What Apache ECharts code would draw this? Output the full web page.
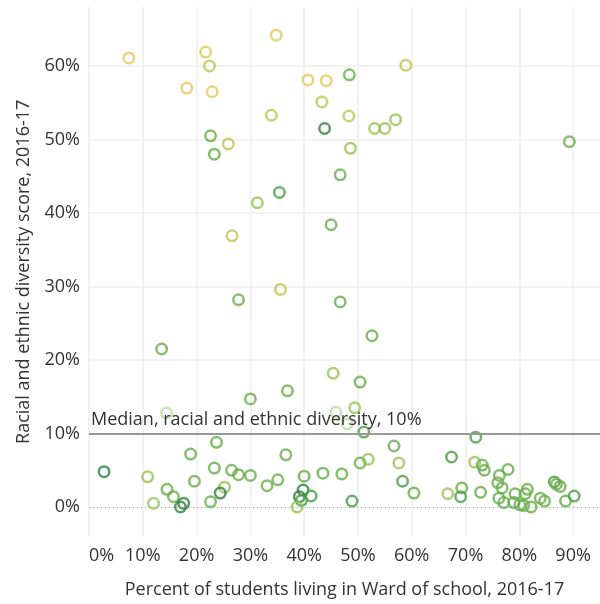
<!DOCTYPE html>
<html>
<head>
<meta charset="utf-8">
<script src="https://cdn.jsdelivr.net/npm/echarts@6/dist/echarts.min.js"></script>
<style>
  html, body { margin: 0; padding: 0; background: #fff; }
  #main { width: 600px; height: 604px; }
</style>
</head>
<body>
<div id="main"></div>
<script>
// share of students living in the school's Ward (x) and diversity score (y)
var wardShare = [
  0.074, 0.217, 0.224, 0.182, 0.229, 0.348, 0.339, 0.226, 0.259, 0.233,
  0.354, 0.313, 0.266, 0.356, 0.278, 0.467, 0.135, 0.454, 0.407, 0.441,
  0.484, 0.589, 0.433, 0.483, 0.438, 0.531, 0.550, 0.570, 0.486, 0.467,
  0.450, 0.893, 0.526, 0.504, 0.144, 0.300, 0.369, 0.459, 0.494, 0.480,
  0.511, 0.028, 0.109, 0.189, 0.237, 0.145, 0.120, 0.157, 0.176, 0.170,
  0.196, 0.233, 0.226, 0.252, 0.244, 0.265, 0.278, 0.300, 0.331, 0.351,
  0.366, 0.400, 0.435, 0.470, 0.398, 0.413, 0.391, 0.395, 0.387, 0.489,
  0.504, 0.519, 0.567, 0.576, 0.583, 0.604, 0.667, 0.674, 0.719, 0.717,
  0.731, 0.735, 0.779, 0.763, 0.760, 0.768, 0.693, 0.691, 0.728, 0.762,
  0.771, 0.792, 0.790, 0.801, 0.815, 0.811, 0.822, 0.808, 0.839, 0.847,
  0.865, 0.869, 0.876, 0.886, 0.902
];
var diversity = [
  0.611, 0.619, 0.600, 0.570, 0.565, 0.642, 0.533, 0.505, 0.494, 0.480,
  0.428, 0.414, 0.369, 0.296, 0.282, 0.279, 0.215, 0.182, 0.581, 0.580,
  0.588, 0.601, 0.551, 0.532, 0.515, 0.515, 0.515, 0.527, 0.488, 0.452,
  0.384, 0.497, 0.233, 0.170, 0.128, 0.147, 0.158, 0.129, 0.135, 0.113,
  0.102, 0.048, 0.041, 0.072, 0.088, 0.024, 0.005, 0.014, 0.005, 0.000,
  0.035, 0.053, 0.007, 0.027, 0.019, 0.050, 0.044, 0.043, 0.029, 0.037,
  0.071, 0.042, 0.046, 0.045, 0.023, 0.015, 0.014, 0.009, 0.000, 0.008,
  0.060, 0.065, 0.083, 0.060, 0.035, 0.019, 0.018, 0.068, 0.095, 0.061,
  0.057, 0.050, 0.051, 0.043, 0.033, 0.026, 0.026, 0.014, 0.020, 0.012,
  0.006, 0.018, 0.006, 0.003, 0.024, 0.018, 0.000, 0.002, 0.012, 0.008,
  0.034, 0.031, 0.028, 0.008, 0.015
];
// colour class of each ring, 0 = dark green ... 5 = yellow, 6 = faded
var tone = [
  5, 5, 4, 5, 5, 5, 4, 2, 4, 2,
  1, 3, 4, 4, 2, 2, 2, 3, 5, 5,
  2, 4, 4, 4, 0, 3, 3, 3, 3, 2,
  2, 2, 2, 2, 6, 2, 2, 6, 3, 6,
  1, 0, 3, 2, 2, 2, 3, 2, 0, 0,
  2, 2, 2, 3, 0, 2, 2, 2, 2, 2,
  2, 2, 2, 2, 0, 1, 0, 1, 3, 1,
  2, 3, 2, 3, 1, 2, 3, 1, 1, 3,
  2, 2, 2, 2, 2, 2, 2, 1, 2, 2,
  2, 2, 2, 2, 2, 2, 2, 2, 2, 2,
  1, 2, 2, 2, 1
];
var tonePalette = ['#2f7f3e', '#4b9c45', '#68ad4a', '#96c254', '#c0c352', '#e6c85c', '#bcdcaa'];

var xTicks = [0, 0.1, 0.2, 0.3, 0.4, 0.5, 0.6, 0.7, 0.8, 0.9];
var yTicks = [0, 0.1, 0.2, 0.3, 0.4, 0.5, 0.6];
var medianValue = 0.1;
var medianLabel = 'Median, racial and ethnic diversity, 10%';

var points = wardShare.map(function (x, i) {
  return {
    value: [x, diversity[i]],
    itemStyle: { borderColor: tonePalette[tone[i]] }
  };
});

var pct = function (v) { return Math.round(v * 100) + '%'; };
var textFont = 'Open Sans';

var myChart = echarts.init(document.getElementById('main'));

option = {
  animation: false,
  grid: { left: 89, right: -2.5, top: 7.2, bottom: 67.6 },
  xAxis: {
    type: 'value',
    min: 0,
    max: 0.95,
    name: 'Percent of students living in Ward of school, 2016-17',
    nameLocation: 'middle',
    nameGap: 44,
    nameTextStyle: { fontFamily: textFont, fontSize: 18, color: '#333' },
    axisLine: { show: true, lineStyle: { color: '#eeeeee', width: 1 } },
    axisTick: { show: false, customValues: xTicks },
    axisLabel: {
      customValues: xTicks,
      formatter: pct,
      alignMinLabel: 'left',
      margin: 10,
      fontFamily: textFont, fontSize: 18, color: '#333'
    },
    splitLine: { show: true, lineStyle: { color: '#eeeeee', width: 1.5 } }
  },
  yAxis: {
    type: 'value',
    min: -0.04,
    max: 0.68,
    name: 'Racial and ethnic diversity score, 2016-17',
    nameLocation: 'middle',
    nameGap: 56,
    nameTextStyle: { fontFamily: textFont, fontSize: 18, color: '#333' },
    axisLine: { show: false },
    axisTick: { show: false, customValues: yTicks },
    axisLabel: {
      customValues: yTicks,
      formatter: pct,
      margin: 9,
      fontFamily: textFont, fontSize: 18, color: '#333'
    },
    splitLine: {
      show: true,
      lineStyle: { color: ['rgba(0,0,0,0)', '#eeeeee', '#eeeeee', '#eeeeee', '#eeeeee', '#eeeeee', '#eeeeee'], width: 1.5 }
    }
  },
  series: [
    {
      type: 'scatter',
      symbol: 'circle',
      symbolSize: 10.5,
      itemStyle: { color: 'rgba(255,255,255,0)', borderWidth: 2.5 },
      data: points,
      markLine: {
        silent: true,
        symbol: 'none',
        animation: false,
        data: [
          {
            yAxis: 0,
            lineStyle: { color: '#aaaaaa', type: [1, 3], width: 1 },
            label: { show: false }
          },
          {
            yAxis: medianValue,
            lineStyle: { color: '#999999', type: 'solid', width: 2 },
            label: {
              show: true,
              position: 'insideStartTop',
              distance: [2, 5],
              formatter: medianLabel,
              fontFamily: textFont,
              fontSize: 18,
              color: '#333'
            }
          }
        ]
      }
    }
  ]
};

myChart.setOption(option);
</script>
</body>
</html>
